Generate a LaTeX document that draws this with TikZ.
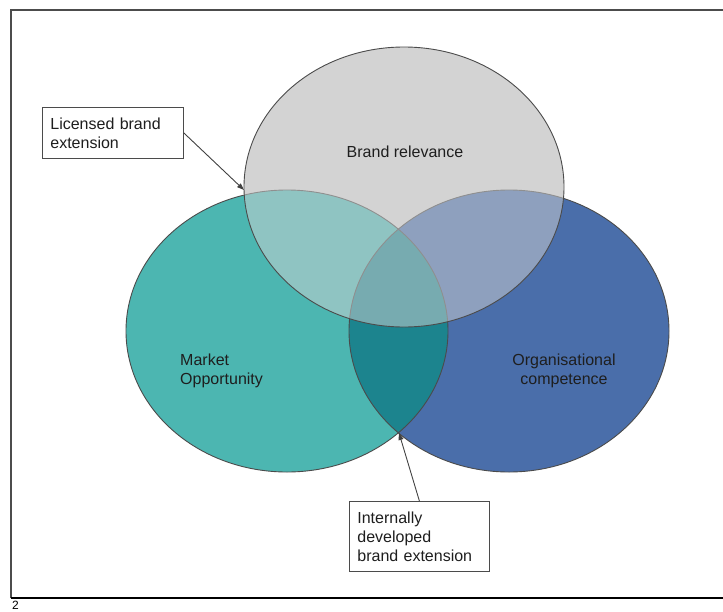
\documentclass[tikz,border=0pt]{standalone}
\usepackage{fontspec}
\setmainfont{Liberation Sans}
\usetikzlibrary{arrows.meta}

\definecolor{tealfill}{RGB}{76,182,177}
\definecolor{bluefill}{RGB}{74,110,170}
\definecolor{deepteal}{RGB}{28,132,142}
\definecolor{greyfill}{RGB}{211,211,211}
\definecolor{edge}{RGB}{75,75,75}
\definecolor{ink}{RGB}{30,30,30}

\begin{document}
\begin{tikzpicture}[x=1pt,y=-1pt,
  lbl/.style={text=ink, inner sep=0pt, font=\fontsize{16}{19}\selectfont},
  callout/.style={draw=edge, line width=0.8pt, fill=white, text=ink,
    inner xsep=8pt, inner ysep=4pt, align=left,
    font=\fontsize{16}{19}\selectfont},
  conn/.style={draw=ink!85, line width=0.9pt,
    -{Triangle[length=7pt,width=5pt]}},
  outline/.style={draw=edge, line width=0.9pt},
  frameline/.style={draw=black!70, line width=1.3pt}
]
\useasboundingbox (0,0) rectangle (723,611);

% centres of the three sets
\coordinate (cBrand) at (404,187);
\coordinate (cMarket) at (287,331);
\coordinate (cOrg) at (509,331);

% outer frame
\draw[frameline] (723,10) -- (11,10) -- (11,598);
\draw[black, line width=2pt] (11,598) -- (723,598);
\node[anchor=north west, inner sep=0pt, font=\fontsize{12}{12}\selectfont] (pageno) at (12,600.5) {2};

% base layer of the brand set, so its own area keeps a solid grey
\fill[greyfill] (cBrand) ellipse [x radius=160pt, y radius=140pt];

% market opportunity and organisational competence
\fill[tealfill] (cMarket) ellipse [x radius=161pt, y radius=141pt];
\fill[bluefill] (cOrg) ellipse [x radius=160pt, y radius=141pt];
\begin{scope}
  \clip (cMarket) ellipse [x radius=161pt, y radius=141pt];
  \fill[deepteal] (cOrg) ellipse [x radius=160pt, y radius=141pt];
\end{scope}
\draw[outline] (cMarket) ellipse [x radius=161pt, y radius=141pt];
\draw[outline] (cOrg) ellipse [x radius=160pt, y radius=141pt];

% translucent brand relevance set on top
\fill[greyfill, fill opacity=0.5] (cBrand) ellipse [x radius=160pt, y radius=140pt];
\draw[outline] (cBrand) ellipse [x radius=160pt, y radius=140pt];

% set labels
\node[lbl] (brand) at (405,152) {Brand relevance};
\node[lbl, align=left, anchor=west] (market) at (180,371) {Market\\Opportunity};
\node[lbl, align=center] (org) at (564,371) {Organisational\\competence};

% callouts
\node[callout, anchor=north west, text width=125pt, minimum height=51pt] (licensed) at (42,107)
  {Licensed brand\\extension};
\node[callout, anchor=north west, text width=124pt, minimum height=70pt] (internal) at (349,501)
  {Internally\\developed\\brand extension};

\coordinate (licTip) at (244,190);
\coordinate (intTip) at (399,433);
\draw[conn] (licensed.east) -- (licTip);
\draw[conn] (internal.north) -- (intTip);
\end{tikzpicture}
\end{document}
